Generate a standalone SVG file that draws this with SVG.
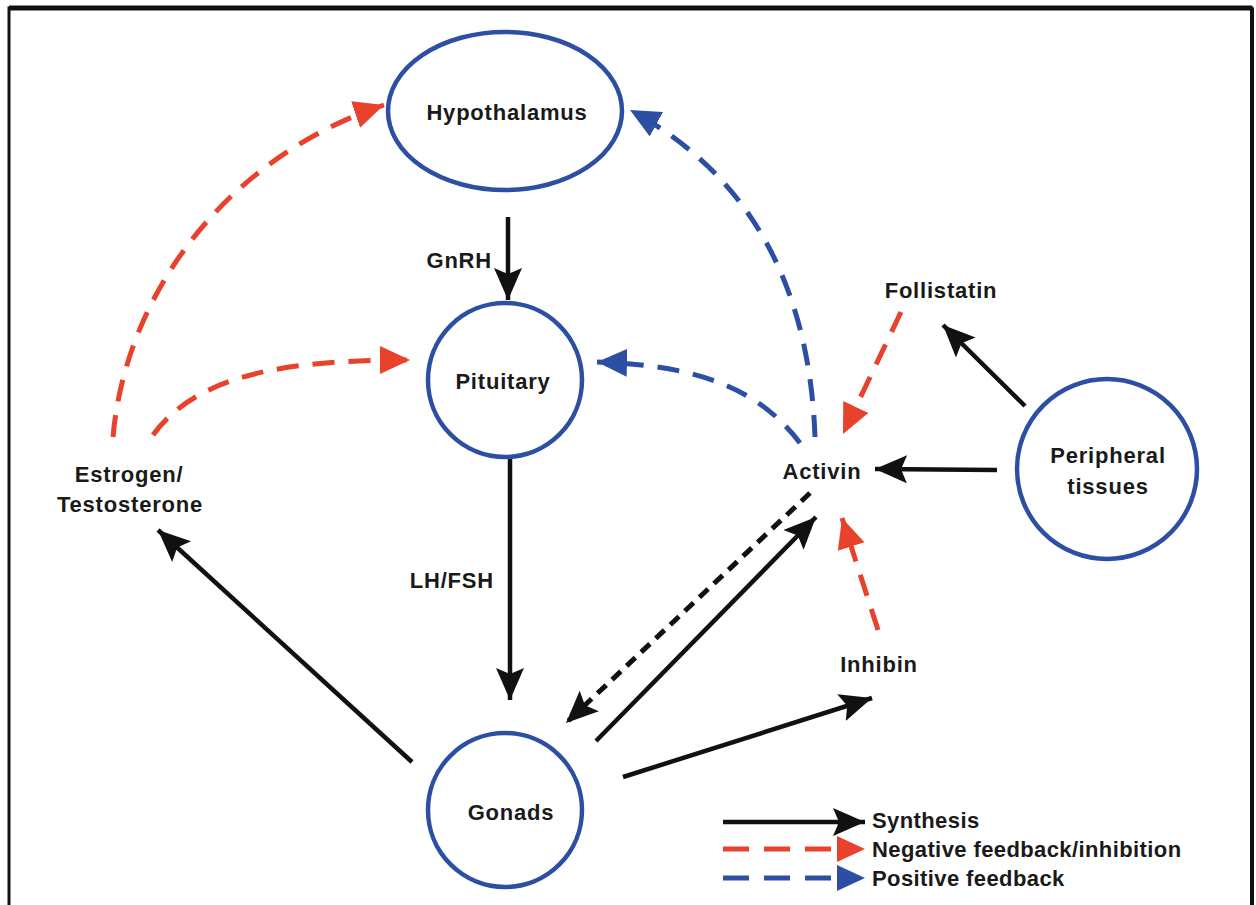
<svg xmlns="http://www.w3.org/2000/svg" width="1256" height="905" viewBox="0 0 1256 905">
<defs>
<style>
.node{fill:#fff;stroke:#2c4fa3;stroke-width:4.5}
.lbl{font-family:"Liberation Sans",Arial,sans-serif;font-weight:bold;font-size:22px;fill:#1a1a1a;letter-spacing:0.8px}
.leg{letter-spacing:0.4px}
.syn{fill:none;stroke:#111;stroke-width:4.5}
.neg{fill:none;stroke:#e8412c;stroke-width:5;stroke-dasharray:22 14}
.pos{fill:none;stroke:#2c4fa3;stroke-width:5;stroke-dasharray:22 14}
.dsh{fill:none;stroke:#111;stroke-width:5;stroke-dasharray:12 8}
</style>
<marker id="ab" markerWidth="36" markerHeight="32" refX="32" refY="14" orient="auto" markerUnits="userSpaceOnUse"><path d="M0,0 L32,14 L0,28 L6,14 Z" fill="#111"/></marker>
<marker id="ar" markerWidth="34" markerHeight="30" refX="30" refY="14" orient="auto" markerUnits="userSpaceOnUse"><path d="M0,0 L30,14 L0,28 Z" fill="#e8412c"/></marker>
<marker id="abl" markerWidth="34" markerHeight="30" refX="30" refY="14" orient="auto" markerUnits="userSpaceOnUse"><path d="M0,0 L30,14 L0,28 Z" fill="#2c4fa3"/></marker>
</defs>
<rect x="0" y="0" width="1256" height="905" fill="#fff"/>
<rect x="9" y="8" width="1243" height="930" fill="none" stroke="#111" stroke-width="3"/>
<line x1="9" y1="8" x2="1252" y2="8" stroke="#111" stroke-width="5"/>
<line x1="1252" y1="8" x2="1252" y2="905" stroke="#111" stroke-width="4"/>

<g id="connectors">
<path class="syn" d="M508,217 L508,300" marker-end="url(#ab)"/>
<path class="syn" d="M510,458 L510,700" marker-end="url(#ab)"/>
<path class="syn" d="M412,762 L158,530" marker-end="url(#ab)"/>
<path class="syn" d="M596,741 L816,517" marker-end="url(#ab)"/>
<path class="dsh" d="M810,493 L566,723" marker-end="url(#ab)"/>
<path class="syn" d="M623,777 L872,698" marker-end="url(#ab)"/>
<path class="syn" d="M1025,406 L943,325" marker-end="url(#ab)"/>
<path class="syn" d="M997,470 L875,469" marker-end="url(#ab)"/>
<path class="neg" d="M878,630 L842,518" marker-end="url(#ar)"/>
<path class="neg" d="M901,312 L843,434" marker-end="url(#ar)"/>
<path class="neg" d="M113,437 C125,300 220,160 384,105" marker-end="url(#ar)"/>
<path class="neg" d="M153,435 C200,370 300,360 410,360" marker-end="url(#ar)"/>
<path class="pos" d="M815,437 C810,300 760,180 630,110" marker-end="url(#abl)"/>
<path class="pos" d="M800,443 C760,390 700,365 597,362" marker-end="url(#abl)"/>
</g>

<g id="hypothalamus"><ellipse class="node" cx="505" cy="111" rx="117" ry="79"/><text class="lbl" x="507" y="120" text-anchor="middle" font-size="24">Hypothalamus</text></g>
<g id="pituitary"><circle class="node" cx="505" cy="380" r="77"/><text class="lbl" x="503" y="389" text-anchor="middle">Pituitary</text></g>
<g id="gonads"><circle class="node" cx="505" cy="810" r="77"/><text class="lbl" x="511" y="820" text-anchor="middle">Gonads</text></g>
<g id="peripheral"><circle class="node" cx="1107" cy="469" r="90"/><text class="lbl" x="1108" y="463" text-anchor="middle">Peripheral</text><text class="lbl" x="1108" y="494" text-anchor="middle">tissues</text></g>
<g id="estrogen"><text class="lbl" x="129" y="482" text-anchor="middle">Estrogen/</text><text class="lbl" x="130" y="512" text-anchor="middle">Testosterone</text></g>
<g id="activin"><text class="lbl" x="822" y="479" text-anchor="middle">Activin</text></g>
<g id="follistatin"><text class="lbl" x="941" y="298" text-anchor="middle">Follistatin</text></g>
<g id="inhibin"><text class="lbl" x="879" y="672" text-anchor="middle">Inhibin</text></g>
<g id="gnrh"><text class="lbl" x="492" y="268" text-anchor="end">GnRH</text></g>
<g id="lhfsh"><text class="lbl" x="494" y="588" text-anchor="end">LH/FSH</text></g>

<g id="legend">
<path class="syn" d="M723,822 L865,822" marker-end="url(#ab)"/>
<path fill="none" stroke="#e8412c" stroke-width="5" stroke-dasharray="26 15" d="M723,849 L840,849"/>
<path d="M837,836 L865,849 L837,862 Z" fill="#e8412c"/>
<path fill="none" stroke="#2c4fa3" stroke-width="5" stroke-dasharray="26 15" d="M723,878 L840,878"/>
<path d="M837,865 L865,878 L837,891 Z" fill="#2c4fa3"/>
<text class="lbl leg" x="872" y="828">Synthesis</text>
<text class="lbl leg" x="872" y="857">Negative feedback/inhibition</text>
<text class="lbl leg" x="872" y="886">Positive feedback</text>
</g>
</svg>
